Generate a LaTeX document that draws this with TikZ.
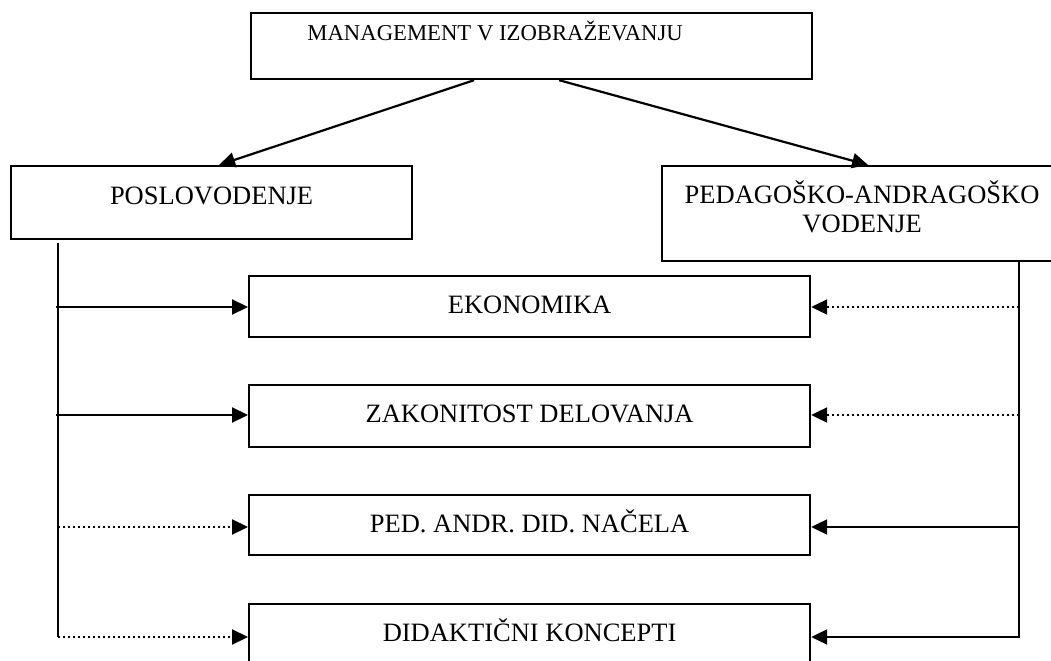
\documentclass[tikz,border=0pt]{standalone}
\usepackage{fontspec}
\setmainfont{Liberation Serif}
\usetikzlibrary{arrows.meta}
\begin{document}
\begin{tikzpicture}[x=1bp,y=-1bp,
  box/.style={draw, line width=2.2bp, inner sep=0pt, rectangle, anchor=north west},
  big/.style={font=\fontsize{26.5bp}{29bp}\selectfont},
  midbox/.style={box, big, minimum width=561bp, minimum height=61bp, text height=37bp, text depth=24bp},
  conn/.style={line width=2.2bp, -{Triangle[length=16bp,width=15bp]}},
  dots/.style={conn, dash pattern=on 2bp off 3bp},
  plain/.style={line width=2.2bp}
]
\useasboundingbox (0,0) rectangle (1051,661);
\fill[white] (0,0) rectangle (1051,661);

\node[box, minimum width=561bp, minimum height=66bp, text height=27bp, text depth=39bp,
      font=\fontsize{22.7bp}{27bp}\selectfont] (top) at (250,12)
  {MANAGEMENT V IZOBRAŽEVANJU\hbox to 73bp{}};

\node[box, big, minimum width=401bp, minimum height=73bp, text height=38bp, text depth=35bp] (posl) at (10,165) {POSLOVODENJE};

\node[box, big, minimum width=400bp, minimum height=95bp, text height=37bp, text depth=58bp] (peda) at (661,165)
  {\begin{tabular}[t]{@{}c@{}}PEDAGOŠKO-ANDRAGOŠKO\\VODENJE\end{tabular}};

\node[midbox] (eko) at (248,275) {EKONOMIKA};
\node[midbox, minimum height=62bp, text depth=25bp] (zak) at (248,384) {ZAKONITOST DELOVANJA};
\node[midbox, minimum height=60bp, text depth=23bp] (nac) at (248,494) {PED. ANDR. DID. NAČELA};
\node[midbox] (did) at (248,603) {DIDAKTIČNI KONCEPTI};

% top arrows
\draw[conn] ([xshift=-57.5bp]top.south) -- ([xshift=7.5bp]posl.north);
\draw[conn] ([xshift=27.5bp]top.south) -- ([xshift=6bp]peda.north);

% left spine
\coordinate (L0) at (58,243);
\coordinate (L1) at (58,637);
\draw[plain] (L0) -- (L1);
\coordinate (La) at (56,307);
\coordinate (Lb) at (56,415);
\coordinate (Lc) at (58,527);
\coordinate (Ld) at (58,637);
\draw[conn] (La) -- (La -| eko.west);
\draw[conn] (Lb) -- (Lb -| zak.west);
\draw[dots] (Lc) -- (Lc -| nac.west);
\draw[dots] (Ld) -- (Ld -| did.west);

% right spine
\coordinate (R0) at (1019,260);
\coordinate (R1) at (1019,637);
\coordinate (Ra) at (1019,307);
\coordinate (Rb) at (1019,415);
\coordinate (Rc) at (1019,527);
\draw[conn] (R0) -- (R1) -- (R1 -| did.east);
\draw[dots] (Ra) -- (Ra -| eko.east);
\draw[dots] (Rb) -- (Rb -| zak.east);
\draw[conn] (Rc) -- (Rc -| nac.east);
\end{tikzpicture}
\end{document}
